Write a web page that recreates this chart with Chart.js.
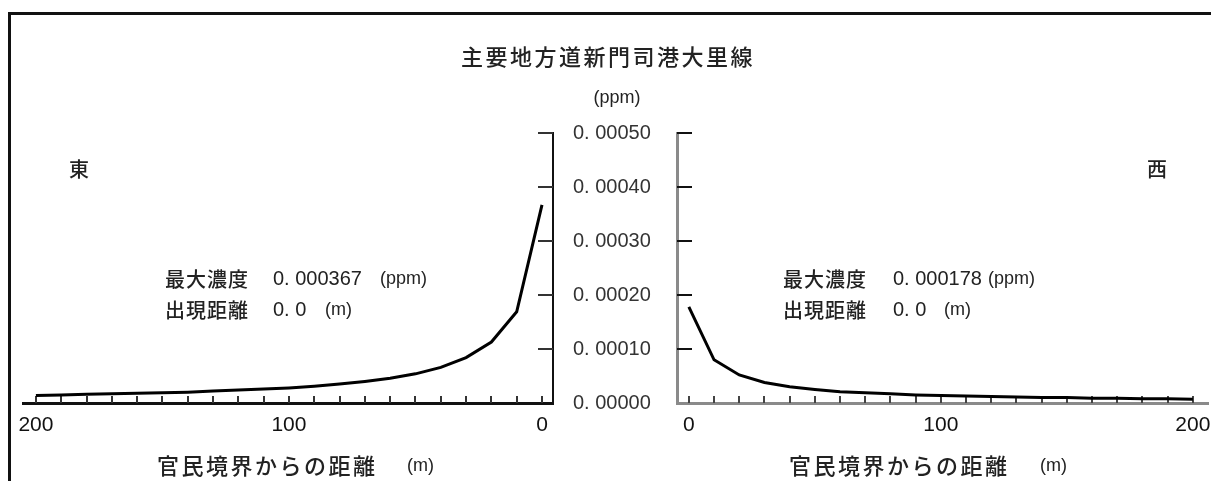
<!DOCTYPE html>
<html><head><meta charset="utf-8">
<script src="https://cdn.jsdelivr.net/npm/chart.js@4/dist/chart.umd.min.js"></script>
<style>
html,body{margin:0;padding:0;background:#fff;width:1211px;height:481px;overflow:hidden;}
#frame{position:absolute;left:8px;top:12px;width:1210px;height:480px;border-left:3px solid #111;border-top:3px solid #111;box-sizing:border-box;}
canvas{position:absolute;left:0;top:0;}
</style></head><body>
<div id="frame"></div>
<canvas id="east" width="1211" height="481"></canvas>
<canvas id="west" width="1211" height="481"></canvas>
<script>
// ---- data ----
const chartTitle = '主要地方道新門司港大里線';
const unitLabel = '(ppm)';
const eastLabel = '東';
const westLabel = '西';
const axisTitle = '官民境界からの距離';
const axisUnit = '(m)';
const distances = [0,10,20,30,40,50,60,70,80,90,100,110,120,130,140,150,160,170,180,190,200];
const eastValues = [0.000367,0.000169,0.000113,0.000084,0.000066,0.000054,0.000046,0.000040,0.000035,0.000031,0.000028,0.000026,0.000024,0.000022,0.000020,0.000019,0.000018,0.000017,0.000016,0.000015,0.000014];
const westValues = [0.000178,0.000080,0.000052,0.000038,0.000030,0.000025,0.000021,0.000019,0.000017,0.000015,0.000014,0.000013,0.000012,0.000011,0.000010,0.000010,0.000009,0.000009,0.000008,0.000008,0.000007];
const yTickValues = [0,0.0001,0.0002,0.0003,0.0004,0.0005];
const xLabelValues = [0,100,200];
const eastMaxText = '0. 000367';
const westMaxText = '0. 000178';
const eastDistText = '0. 0';
const westDistText = '0. 0';
const maxLabel = '最大濃度';
const distLabel = '出現距離';

const fmtY = v => '0. ' + v.toFixed(5).slice(2);
const NUM = '"Liberation Sans", Arial, sans-serif';
const JP = '"Noto Sans CJK JP", sans-serif';

function innerTicks(side, xColor, yColor){
  return {
    id: 'innerTicks',
    beforeDatasetsDraw(chart){
      const {ctx, chartArea: a, scales: {x, y}} = chart;
      ctx.save();
      ctx.lineWidth = 2;
      ctx.strokeStyle = xColor;
      for (let d = 0; d <= 200; d += 10){
        const px = Math.round(x.getPixelForValue(d));
        ctx.beginPath(); ctx.moveTo(px, a.bottom); ctx.lineTo(px, a.bottom - 7); ctx.stroke();
      }
      ctx.strokeStyle = yColor;
      yTickValues.slice(1).forEach(v => {
        const py = Math.round(y.getPixelForValue(v));
        const x0 = side === 'right' ? a.right : a.left;
        const x1 = side === 'right' ? a.right - 15 : a.left + 15;
        ctx.beginPath(); ctx.moveTo(x0, py); ctx.lineTo(x1, py); ctx.stroke();
      });
      ctx.restore();
    }
  };
}

const textPlugin = {
  id: 'texts',
  afterDraw(chart){
    const ctx = chart.ctx;
    ctx.save();
    ctx.fillStyle = '#222';
    ctx.textBaseline = 'middle';
    const put = (t, x, y, font, align, ls) => {
      ctx.font = font; ctx.textAlign = align || 'left';
      ctx.letterSpacing = (ls || 0) + 'px';
      ctx.fillText(t, x, y);
    };
    put(chartTitle, 608, 57, '500 22px ' + JP, 'center', 2.5);
    put(unitLabel, 617, 98, '18px ' + NUM, 'center');
    put(eastLabel, 79, 169, '500 20px ' + JP, 'center');
    put(westLabel, 1157, 169, '500 20px ' + JP, 'center');
    // east annotation
    put(maxLabel, 165, 279, '500 20px ' + JP, 'left', 1);
    put(eastMaxText, 273, 279, '20px ' + NUM);
    put(unitLabel, 380, 279, '18px ' + NUM);
    put(distLabel, 165, 310, '500 20px ' + JP, 'left', 1);
    put(eastDistText, 273, 310, '20px ' + NUM);
    put(axisUnit, 325, 310, '18px ' + NUM);
    // west annotation
    put(maxLabel, 783, 279, '500 20px ' + JP, 'left', 1);
    put(westMaxText, 893, 279, '20px ' + NUM);
    put(unitLabel, 988, 279, '18px ' + NUM);
    put(distLabel, 783, 310, '500 20px ' + JP, 'left', 1);
    put(westDistText, 893, 310, '20px ' + NUM);
    put(axisUnit, 944, 310, '18px ' + NUM);
    // axis titles
    put(axisTitle, 157, 466, '500 22px ' + JP, 'left', 2.5);
    put(axisUnit, 407, 466, '18px ' + NUM);
    put(axisTitle, 789, 466, '500 22px ' + JP, 'left', 2.5);
    put(axisUnit, 1040, 466, '18px ' + NUM);
    ctx.restore();
  }
};

function makeChart(id, values, cfg){
  return new Chart(document.getElementById(id), {
    type: 'line',
    data: { datasets: [{
      data: distances.map((d, i) => ({x: d, y: values[i]})),
      borderColor: '#000', borderWidth: 3, pointRadius: 0, tension: 0, fill: false
    }]},
    options: {
      responsive: false, animation: false, devicePixelRatio: 1,
      layout: { padding: cfg.padding },
      plugins: { legend: {display: false}, tooltip: {enabled: false}, title: {display: false} },
      scales: {
        x: {
          type: 'linear', position: 'bottom', reverse: cfg.reverse,
          min: cfg.xMin, max: cfg.xMax,
          grid: { display: false, drawTicks: false },
          border: { display: true, color: cfg.axisColor, width: 3 },
          afterBuildTicks: s => { s.ticks = xLabelValues.map(v => ({value: v})); },
          afterFit: s => { s.height = 40; s.paddingLeft = 0; s.paddingRight = 0; },
          ticks: { font: { family: NUM, size: 21 }, color: '#111', padding: 10, maxRotation: 0, autoSkip: false,
                   callback: v => String(v) }
        },
        y: {
          type: 'linear', position: cfg.yPos, min: 0, max: 0.0005,
          grid: { display: false, drawTicks: false },
          border: { display: true, color: cfg.axisColor, width: cfg.yBorder },
          afterBuildTicks: s => { s.ticks = yTickValues.map(v => ({value: v})); },
          afterFit: s => { s.width = cfg.yWidth; s.paddingTop = 0; s.paddingBottom = 0; },
          ticks: { display: cfg.yLabels, font: { family: NUM, size: 20 }, color: '#333', padding: 20,
                   crossAlign: 'near', callback: fmtY }
        }
      }
    },
    plugins: cfg.plugins
  });
}

makeChart('east', eastValues, {
  padding: {left: 23, right: 1211 - 553 - 100, top: 133, bottom: 481 - 403 - 40},
  reverse: true, xMin: -4.35, xMax: 205.1, yPos: 'right', yWidth: 100, yLabels: true,
  axisColor: '#111', yBorder: 2,
  plugins: [innerTicks('right', '#333', '#333'), textPlugin]
});
makeChart('west', westValues, {
  padding: {left: 677 - 10, right: 1211 - 1208, top: 133, bottom: 481 - 403 - 40},
  reverse: false, xMin: -4.7, xMax: 206, yPos: 'left', yWidth: 10, yLabels: false,
  axisColor: '#8a8a8a', yBorder: 3,
  plugins: [innerTicks('left', '#444', '#111')]
});
</script>
</body></html>
